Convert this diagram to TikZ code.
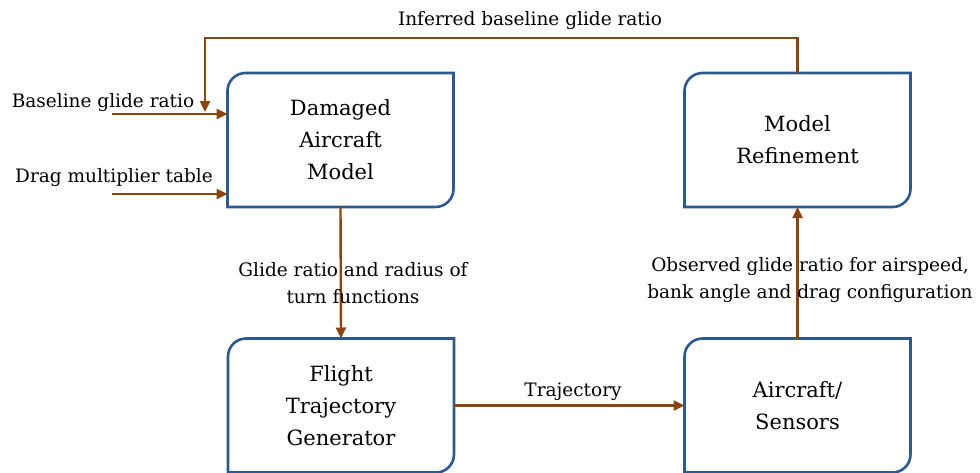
\documentclass[tikz,border=0pt]{standalone}
\usepackage{fontspec}
\setmainfont{DejaVu Serif}
\usetikzlibrary{arrows.meta,calc}

\definecolor{boxblue}{RGB}{44,90,142}
\definecolor{flowbrown}{RGB}{139,69,19}

\tikzset{
  blockbox/.style={minimum width=226pt,minimum height=134pt,inner sep=0pt,outer sep=0pt,
    align=center,font=\fontsize{21}{32}\selectfont},
  blockline/.style={boxblue,line width=2.6pt},
  flow/.style={flowbrown,line width=2.4pt,-{Triangle[length=11pt,width=10pt]}},
  flowlabel/.style={align=center,font=\fontsize{18.5}{27}\selectfont,inner sep=0pt}
}

% outline with rounded top-left and bottom-right corners
\newcommand{\blockoutline}[1]{%
  \draw[blockline] (#1.west) [rounded corners=18pt] -- (#1.north west) -- (#1.north)
    [sharp corners] -- (#1.north east) -- (#1.east)
    [rounded corners=18pt] -- (#1.south east) -- (#1.south)
    [sharp corners] -- (#1.south west) -- cycle;}

\begin{document}
\begin{tikzpicture}[x=1pt,y=-1pt]
      \useasboundingbox (0,0) rectangle (980,472);
      \node[blockbox] (dam) at (340.5,140) {Damaged\\Aircraft\\Model};
      \node[blockbox] (refine) at (797.5,140) {Model\\Refinement};
      \node[blockbox] (traj) at (341,405.5) {Flight\\Trajectory\\Generator};
      \node[blockbox] (sensors) at (797.5,405.5) {Aircraft/\\Sensors};
      \blockoutline{dam}
      \blockoutline{refine}
      \blockoutline{traj}
      \blockoutline{sensors}
      \coordinate (inbase) at (112,114);
      \coordinate (indrag) at (112,194);
      \coordinate (fbend) at (205,112);
      \node[flowlabel] (lbase) at (103,103) {Baseline glide ratio};
      \node[flowlabel] (ldrag) at (114,178) {Drag multiplier table};
      \draw[flow] (inbase) -- (inbase -| dam.west);
      \draw[flow] (indrag) -- (indrag -| dam.west);
      \draw[flow] (refine.north) -- ++(0,-35) -| (fbend);
      \node[flowlabel] (lfb) at (530,21) {Inferred baseline glide ratio};
      \draw[flow] (dam.south) -- (traj.north);
      \node[flowlabel] (lglide) at (353,283) {Glide ratio and radius of\\turn functions};
      \draw[flow] (traj.east) -- (sensors.west);
      \node[flowlabel] (ltraj) at (573,392) {Trajectory};
      \draw[flow] (sensors.north) -- (refine.south);
      \node[flowlabel] (lobs) at (810,280) {Observed glide ratio for airspeed,\\bank angle and drag configuration};
\end{tikzpicture}
\end{document}
